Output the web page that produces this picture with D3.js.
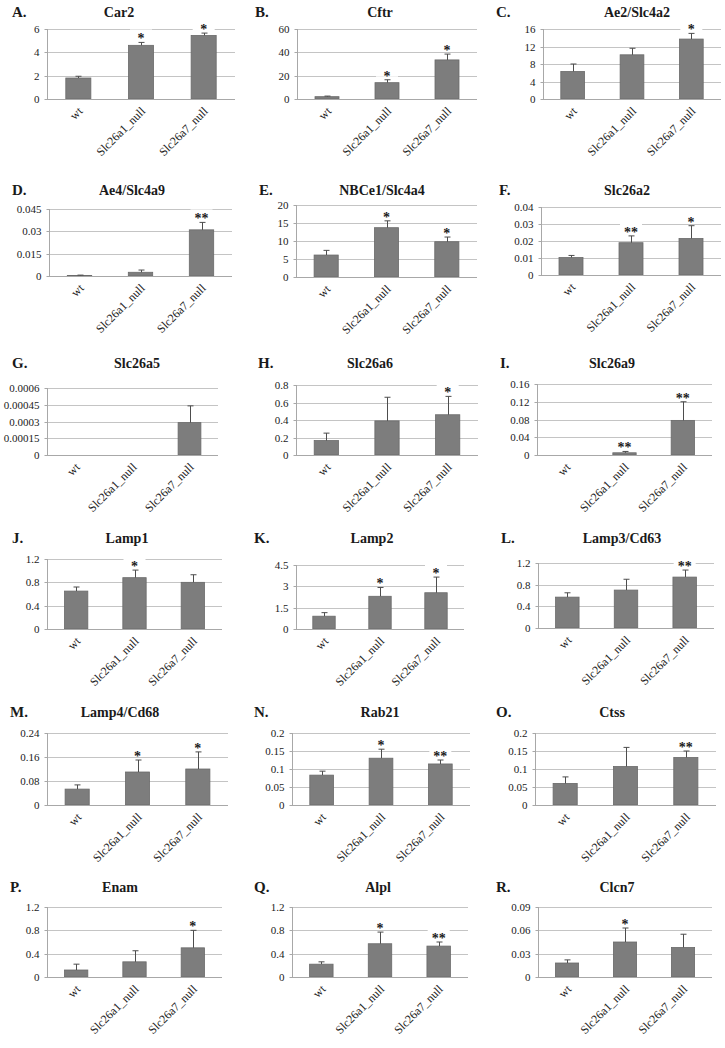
<!DOCTYPE html>
<html><head><meta charset="utf-8">
<script src="https://cdn.jsdelivr.net/npm/d3@7"></script>
<style>body{margin:0;background:#fff}svg{display:block}</style>
</head><body><svg id="c" width="725" height="1048"></svg>
<script>
const categories = ["wt", "Slc26a1_null", "Slc26a7_null"];
const letters = ["A.","B.","C.","D.","E.","F.","G.","H.","I.","J.","K.","L.","M.","N.","O.","P.","Q.","R."];
const genes = ["Car2","Cftr","Ae2/Slc4a2","Ae4/Slc4a9","NBCe1/Slc4a4","Slc26a2","Slc26a5","Slc26a6","Slc26a9","Lamp1","Lamp2","Lamp3/Cd63","Lamp4/Cd68","Rab21","Ctss","Enam","Alpl","Clcn7"];
const means = [
  [1.8, 4.6, 5.45], [2, 14, 33.5], [6.3, 10.1, 13.7],
  [0.0003, 0.0025, 0.031], [6.1, 13.7, 9.8], [0.0103, 0.019, 0.0215],
  [0, 0, 0.00029], [0.165, 0.39, 0.46], [0, 0.005, 0.078],
  [0.65, 0.88, 0.8], [0.9, 2.3, 2.55], [0.57, 0.7, 0.94],
  [0.053, 0.11, 0.12], [0.083, 0.13, 0.114], [0.06, 0.107, 0.132],
  [0.12, 0.26, 0.5], [0.22, 0.57, 0.53], [0.018, 0.045, 0.038]
];
const errors = [
  [0.15, 0.25, 0.2], [0.5, 2.5, 5], [1.7, 1.5, 1.3],
  [0.0003, 0.0015, 0.005], [1.3, 1.9, 1.3], [0.0012, 0.004, 0.0075],
  [0, 0, 0.00015], [0.085, 0.27, 0.21], [0, 0.003, 0.042],
  [0.07, 0.13, 0.13], [0.25, 0.62, 1.1], [0.08, 0.2, 0.13],
  [0.014, 0.04, 0.057], [0.011, 0.025, 0.011], [0.018, 0.053, 0.018],
  [0.1, 0.19, 0.3], [0.04, 0.2, 0.07], [0.004, 0.018, 0.017]
];
const stars = [
  ["", "*", "*"], ["", "*", "*"], ["", "", "*"],
  ["", "", "**"], ["", "*", "*"], ["", "**", "*"],
  ["", "", ""], ["", "", "*"], ["", "**", "**"],
  ["", "*", ""], ["", "*", "*"], ["", "", "**"],
  ["", "*", "*"], ["", "*", "**"], ["", "", "**"],
  ["", "", "*"], ["", "*", "**"], ["", "*", ""]
];
const yTicks = [
  [0, 2, 4, 6], [0, 20, 40, 60], [0, 4, 8, 12, 16],
  [0, 0.015, 0.03, 0.045], [0, 5, 10, 15, 20], [0, 0.01, 0.02, 0.03, 0.04],
  [0, 0.00015, 0.0003, 0.00045, 0.0006], [0, 0.2, 0.4, 0.6, 0.8], [0, 0.04, 0.08, 0.12, 0.16],
  [0, 0.4, 0.8, 1.2], [0, 1.5, 3, 4.5], [0, 0.4, 0.8, 1.2],
  [0, 0.08, 0.16, 0.24], [0, 0.05, 0.1, 0.15, 0.2], [0, 0.05, 0.1, 0.15, 0.2],
  [0, 0.4, 0.8, 1.2], [0, 0.4, 0.8, 1.2], [0, 0.03, 0.06, 0.09]
];

// layout: [axisX, gridRight, topY, zeroY, titleX, titleBaseline, letterX]
const layout = [
  [47, 235, 29, 99, 119, 17, 12], [297, 477, 29, 99, 380, 17, 255], [543, 721, 29, 99, 637, 17, 496],
  [49, 232, 209, 276, 132, 195, 12], [296, 477, 205, 277, 382, 195, 259], [541, 721, 207, 275, 627, 195, 499],
  [47, 218, 388, 455, 137, 368, 12], [296, 478, 385, 455, 370, 368, 258], [537, 712, 384, 455, 612, 368, 500],
  [47, 222, 559, 629, 127, 543, 12], [296, 464, 565, 629, 372, 543, 254], [538, 714, 563, 628, 622, 543, 501],
  [47, 228, 733, 805, 120, 717, 10], [292, 470, 733, 805, 380, 717, 254], [535, 716, 733, 805, 612, 717, 496],
  [47, 222, 907, 977, 120, 892, 10], [292, 468, 907, 977, 378, 892, 254], [538, 712, 907, 977, 617, 892, 496]
];

const svg = d3.select("#c");
const serif = "'Liberation Serif','Times New Roman',serif";
const gridColor = "#c4c4c4", axisColor = "#a8a8a8", barFill = "#7d7d7d", barStroke = "#6a6a6a", errColor = "#4d4d4d", textColor = "#1a1a1a";

genes.forEach((gene, i) => {
  const [ax, gr, ty, zy, tx, tby, lx] = layout[i];
  const ticks = yTicks[i];
  const g = svg.append("g");
  const y = d3.scaleLinear().domain([0, ticks[ticks.length - 1]]).range([zy, ty]);
  const x = d3.scaleBand().domain(categories).range([ax, gr]).paddingInner(0.6).paddingOuter(0.3);

  // letter and title
  g.append("text").attr("x", lx).attr("y", tby).attr("font-family", serif).attr("font-weight", "bold")
    .attr("font-size", 15).attr("fill", textColor).text(letters[i]);
  g.append("text").attr("x", tx).attr("y", tby).attr("text-anchor", "middle").attr("font-family", serif)
    .attr("font-weight", "bold").attr("font-size", 14).attr("fill", textColor).text(gene);

  // gridlines
  g.append("g").selectAll("line").data(ticks.filter(t => t > 0)).join("line")
    .attr("x1", ax).attr("x2", gr).attr("y1", d => Math.round(y(d)) + 0.5).attr("y2", d => Math.round(y(d)) + 0.5)
    .attr("stroke", gridColor).attr("stroke-width", 1);

  // y axis
  const yAxis = d3.axisLeft(y).tickValues(ticks).tickSize(3).tickPadding(5).tickFormat(d => String(d));
  const ya = g.append("g").attr("transform", `translate(${ax + 0.5},0)`).call(yAxis);
  ya.select(".domain").attr("stroke", axisColor).attr("d", `M-0,${zy}V${ty}`);
  ya.selectAll(".tick line").attr("stroke", axisColor);
  ya.selectAll(".tick").attr("transform", d => `translate(0,${Math.round(y(d)) + 0.5})`);
  ya.selectAll(".tick text").attr("font-family", serif).attr("font-size", 11).attr("fill", textColor);

  // bars
  const cats = categories.map((c, j) => ({ c, v: means[i][j], e: errors[i][j], s: stars[i][j] }));
  g.append("g").selectAll("rect").data(cats.filter(d => d.v > 0)).join("rect")
    .attr("x", d => x(d.c)).attr("width", x.bandwidth())
    .attr("y", d => y(d.v)).attr("height", d => zy - y(d.v))
    .attr("fill", barFill).attr("stroke", barStroke).attr("stroke-width", 0.8);

  // x axis line
  g.append("line").attr("x1", ax).attr("x2", gr).attr("y1", zy + 0.5).attr("y2", zy + 0.5)
    .attr("stroke", axisColor).attr("stroke-width", 1);

  // error bars (upper only)
  const eb = g.append("g").attr("stroke", errColor).attr("stroke-width", 1);
  cats.filter(d => d.e > 0).forEach(d => {
    const cx = Math.round(x(d.c) + x.bandwidth() / 2) + 0.5;
    eb.append("line").attr("x1", cx).attr("x2", cx).attr("y1", y(d.v)).attr("y2", y(d.v + d.e));
    eb.append("line").attr("x1", cx - 3).attr("x2", cx + 3).attr("y1", y(d.v + d.e)).attr("y2", y(d.v + d.e));
  });

  // significance stars
  cats.filter(d => d.s).forEach(d => {
    const cx = x(d.c) + x.bandwidth() / 2;
    const top = y(d.v + d.e);
    g.append("rect").attr("x", cx - 11).attr("y", top - 13).attr("width", 22).attr("height", 10).attr("fill", "#fff");
    g.append("text").attr("x", cx).attr("y", top + 1).attr("text-anchor", "middle").attr("font-family", serif)
      .attr("font-weight", "bold").attr("font-size", 14).attr("fill", textColor).text(d.s);
  });

  // x labels, rotated
  g.append("g").selectAll("text").data(categories).join("text")
    .attr("transform", d => `translate(${x(d) + x.bandwidth() / 2 + 5},${zy + 13}) rotate(-45)`)
    .attr("text-anchor", "end").attr("font-family", serif).attr("font-size", 12).attr("fill", textColor)
    .text(d => d);
});
</script>
</body></html>
